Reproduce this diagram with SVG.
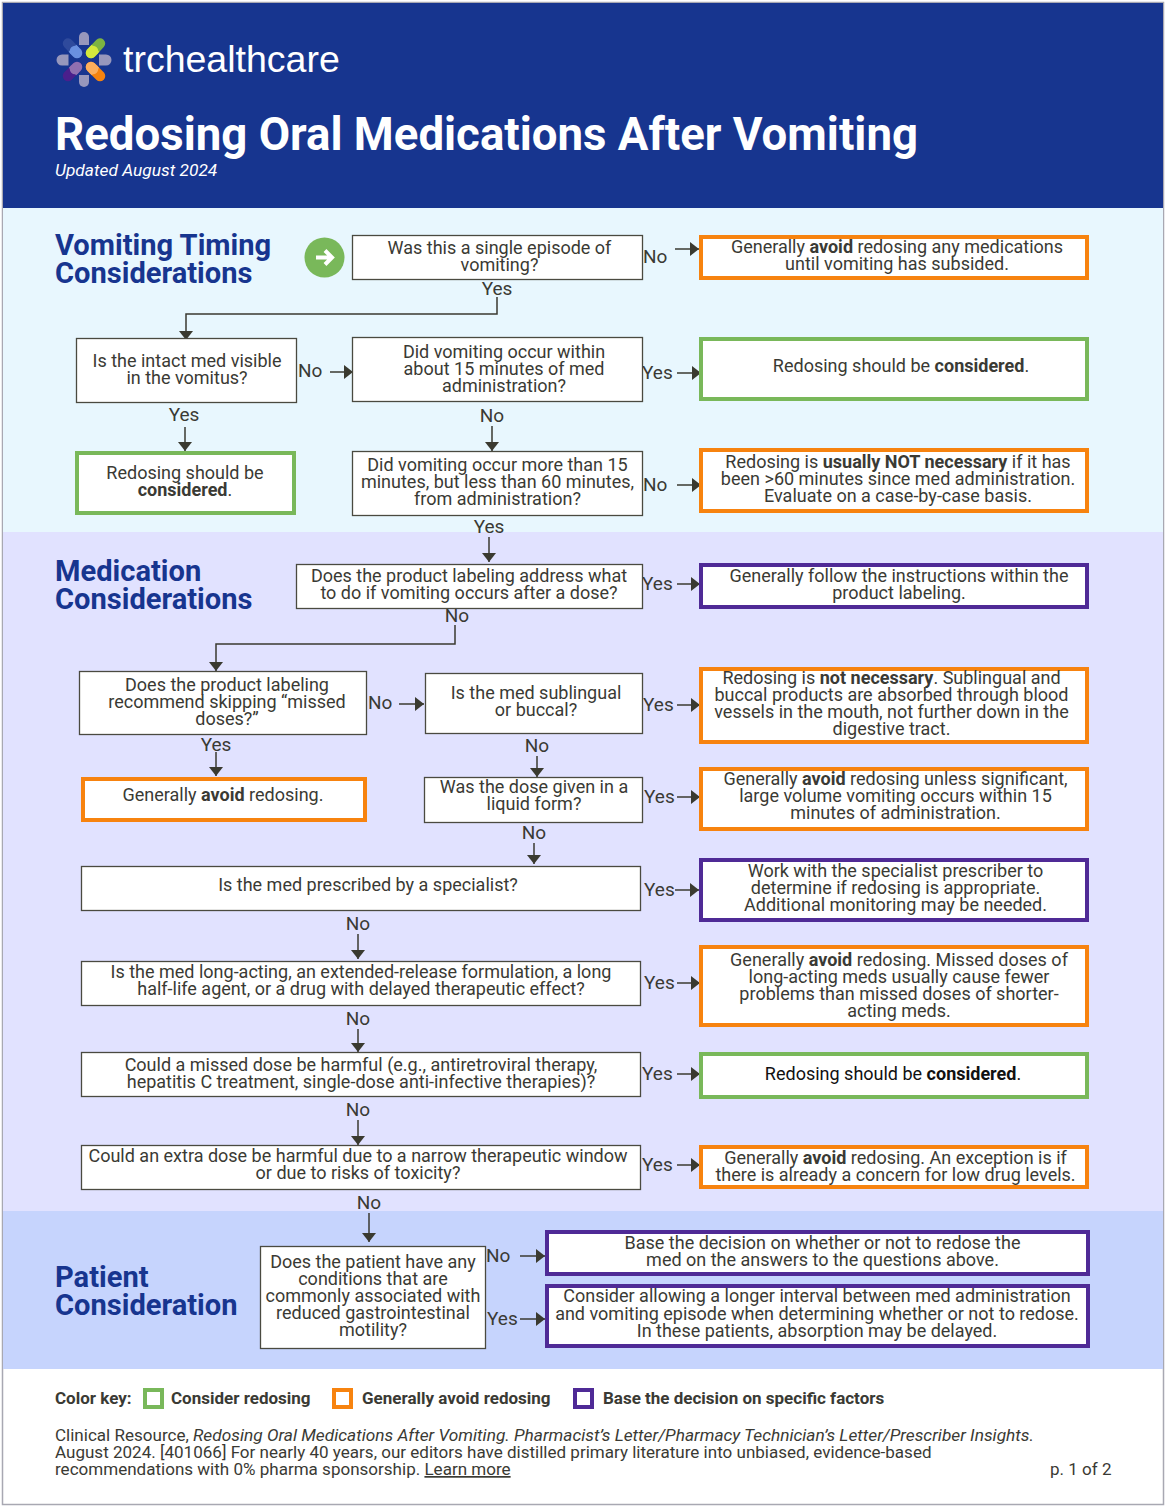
<svg xmlns="http://www.w3.org/2000/svg" width="1168" height="1509" viewBox="0 0 1168 1509">
<style>
text{font-family:Roboto,"Liberation Sans",sans-serif;font-size:18px;fill:#3a3a34}
.c{text-anchor:middle}
.q{fill:#fff;stroke:#4a4a40;stroke-width:1.3}
.g{fill:#fff;stroke:#79b85a;stroke-width:4}
.o{fill:#fff;stroke:#f7830f;stroke-width:4}
.p{fill:#fff;stroke:#4f2a96;stroke-width:4}
.h{font-size:29.100px;font-weight:700;fill:#17358f}
.k{font-weight:700;font-size:17px}
.f{font-size:17.050px}
.i{font-style:italic;font-size:17.300px}
.y{font-size:19px}
.l{stroke:#3a3a30;stroke-width:1.500;fill:none}
.b{font-weight:700}
.gp{fill:#9797bc}
.cap{fill:none;stroke-width:10.500;stroke-linecap:round}
.half{fill:none;stroke-width:10.500}
</style>
<defs><marker id="a" markerWidth="10" markerHeight="14" refX="9" refY="7" orient="auto" markerUnits="userSpaceOnUse"><path d="M0 0L9 7L0 14Z" fill="#3a3a30"/></marker></defs>
<rect width="1168" height="1509" fill="#fff"/>
<g id="page">
<rect x="2.500" y="2.500" width="1161" height="1502" fill="#fff" stroke="#a8a8b2" stroke-width="1.500"/>
<rect x="3" y="3" width="1160" height="205" fill="#17358f"/>
<rect x="3" y="208" width="1160" height="324" fill="#e8f7fe"/>
<rect x="3" y="532" width="1160" height="679" fill="#e1e2ff"/>
<rect x="3" y="1211" width="1160" height="158" fill="#c6d4fd"/>
</g>
<g id="logo">
<path class="gp" d="M79 45V37a5 5 0 0 1 10 0V45Z"/>
<path class="gp" d="M79 75V82a5 5 0 0 0 10 0V75Z"/>
<path class="gp" d="M68.500 54.500H62a5.500 5.500 0 0 0 0 11H68.500Z"/>
<path class="gp" d="M99 54.500H106a5.500 5.500 0 0 1 0 11H99Z"/>
<path class="cap" stroke="#2f4a9c" d="M68 43.500L77 53"/><path class="cap" stroke="#6a90e0" d="M77 53L75 51"/><path class="half" stroke="#6a90e0" d="M75 51L72.500 48.300"/>
<path class="cap" stroke="#7cb342" d="M100 43.500L91 53"/><path class="cap" stroke="#d4e83c" d="M91 53L93 51"/><path class="half" stroke="#d4e83c" d="M93 51L95.500 48.300"/>
<path class="cap" stroke="#f5830f" d="M100 76L91 67"/><path class="cap" stroke="#fcae5c" d="M91 67L93 69"/><path class="half" stroke="#fcae5c" d="M93 69L95.500 71.500"/>
<path class="cap" stroke="#4a1f8c" d="M68 76L77 67"/><path class="cap" stroke="#9070b0" d="M77 67L75 69"/><path class="half" stroke="#9070b0" d="M75 69L72.500 71.500"/>
<text x="123" y="72" style="font-family:'Liberation Sans',sans-serif;font-size:37.500px;fill:#fff">trchealthcare</text>
</g>
<g id="title">
<text x="55" y="150" style="font-size:45.600px;font-weight:700;fill:#fff">Redosing Oral Medications After Vomiting</text>
<text x="55" y="176" style="font-style:italic;font-size:17.350px;fill:#fff">Updated August 2024</text>
</g>
<g id="headings">
<text class="h" x="55" y="255.300">Vomiting Timing<tspan x="55" dy="27.700">Considerations</tspan></text>
<text class="h" x="55" y="581.300">Medication<tspan x="55" dy="27.700">Considerations</tspan></text>
<text class="h" x="55" y="1287.300">Patient<tspan x="55" dy="27.700">Consideration</tspan></text>
</g>
<g id="start"><circle cx="324.500" cy="257.500" r="20" fill="#79b85a"/><path d="M316 257.500H332M325 250.500L332 257.500L325 264.500" fill="none" stroke="#fff" stroke-width="4"/></g>
<g id="connectors">
<path class="l" marker-end="url(#a)" d="M675 249H699"/>
<path class="l" marker-end="url(#a)" d="M497 297V314H186V340"/>
<path class="l" marker-end="url(#a)" d="M330 372H353"/>
<path class="l" marker-end="url(#a)" d="M677 373H701"/>
<path class="l" marker-end="url(#a)" d="M185 427V451"/>
<path class="l" marker-end="url(#a)" d="M492 426V451"/>
<path class="l" marker-end="url(#a)" d="M677 485H701"/>
<path class="l" marker-end="url(#a)" d="M489 537V562"/>
<path class="l" marker-end="url(#a)" d="M677 584H700"/>
<path class="l" marker-end="url(#a)" d="M455 625V644H216V671"/>
<path class="l" marker-end="url(#a)" d="M399 704H424"/>
<path class="l" marker-end="url(#a)" d="M677 705H700"/>
<path class="l" marker-end="url(#a)" d="M216 752V776"/>
<path class="l" marker-end="url(#a)" d="M537 756V777"/>
<path class="l" marker-end="url(#a)" d="M677 797H700"/>
<path class="l" marker-end="url(#a)" d="M534 843V864"/>
<path class="l" marker-end="url(#a)" d="M675 890H699"/>
<path class="l" marker-end="url(#a)" d="M358 934V959"/>
<path class="l" marker-end="url(#a)" d="M677 983H700"/>
<path class="l" marker-end="url(#a)" d="M358 1029V1052"/>
<path class="l" marker-end="url(#a)" d="M677 1074H700"/>
<path class="l" marker-end="url(#a)" d="M358 1120V1145"/>
<path class="l" marker-end="url(#a)" d="M677 1165H700"/>
<path class="l" marker-end="url(#a)" d="M369 1213V1242"/>
<path class="l" marker-end="url(#a)" d="M520 1256H545"/>
<path class="l" marker-end="url(#a)" d="M520 1319H545"/>
</g>
<g id="connector-labels">
<text class="y" x="643" y="263">No</text><text class="y c" x="497" y="295">Yes</text>
<text class="y" x="298" y="377">No</text><text class="y" x="642" y="379">Yes</text>
<text class="y c" x="184" y="421">Yes</text><text class="y c" x="492" y="422">No</text>
<text class="y" x="643" y="491">No</text><text class="y c" x="489" y="533">Yes</text>
<text class="y" x="642" y="590">Yes</text><text class="y c" x="457" y="622">No</text>
<text class="y" x="368" y="709">No</text><text class="y" x="643" y="711">Yes</text>
<text class="y c" x="216" y="751">Yes</text><text class="y c" x="537" y="752">No</text>
<text class="y" x="644" y="803">Yes</text><text class="y c" x="534" y="839">No</text>
<text class="y" x="644" y="896">Yes</text><text class="y c" x="358" y="930">No</text>
<text class="y" x="644" y="989">Yes</text><text class="y c" x="358" y="1025">No</text>
<text class="y" x="642" y="1080">Yes</text><text class="y c" x="358" y="1116">No</text>
<text class="y" x="642" y="1171">Yes</text><text class="y c" x="369" y="1209">No</text>
<text class="y" x="486" y="1262">No</text><text class="y" x="487" y="1325">Yes</text>
</g>
<g id="n1"><rect class="q" x="352.500" y="235.500" width="290" height="44"/><text class="c" x="499.500" y="254">Was this a single episode of<tspan x="499.500" dy="17">vomiting?</tspan></text></g>
<g id="n2"><rect class="o" x="701" y="237" width="386" height="41"/><text class="c" x="897" y="253">Generally <tspan class="b">avoid</tspan> redosing any medications<tspan x="897" dy="17">until vomiting has subsided.</tspan></text></g>
<g id="n3"><rect class="q" x="76.500" y="338.500" width="220" height="64"/><text class="c" x="187" y="367">Is the intact med visible<tspan x="187" dy="17">in the vomitus?</tspan></text></g>
<g id="n4"><rect class="q" x="352.500" y="337.500" width="290" height="64"/><text class="c" x="504" y="358">Did vomiting occur within<tspan x="504" dy="17">about 15 minutes of med</tspan><tspan x="504" dy="17">administration?</tspan></text></g>
<g id="n5"><rect class="g" x="701" y="339" width="386" height="60"/><text class="c" x="901" y="372">Redosing should be <tspan class="b">considered</tspan>.</text></g>
<g id="n6"><rect class="g" x="77" y="453" width="217" height="60"/><text class="c" x="185" y="479">Redosing should be<tspan x="185" dy="17"><tspan class="b">considered</tspan>.</tspan></text></g>
<g id="n7"><rect class="q" x="352.500" y="451.500" width="290" height="64"/><text class="c" x="497.500" y="471">Did vomiting occur more than 15<tspan x="497.500" dy="17">minutes, but less than 60 minutes,</tspan><tspan x="497.500" dy="17">from administration?</tspan></text></g>
<g id="n8"><rect class="o" x="701" y="450" width="386" height="61"/><text class="c" x="898" y="468">Redosing is <tspan class="b">usually NOT necessary</tspan> if it has<tspan x="898" dy="17">been &gt;60 minutes since med administration.</tspan><tspan x="898" dy="17">Evaluate on a case-by-case basis.</tspan></text></g>
<g id="n9"><rect class="q" x="296.500" y="564.500" width="346" height="44"/><text class="c" x="469" y="582">Does the product labeling address what<tspan x="469" dy="17">to do if vomiting occurs after a dose?</tspan></text></g>
<g id="n10"><rect class="p" x="701" y="565" width="386" height="42"/><text class="c" x="899" y="582">Generally follow the instructions within the<tspan x="899" dy="17">product labeling.</tspan></text></g>
<g id="n11"><rect class="q" x="79.500" y="671.500" width="287" height="63"/><text class="c" x="227" y="691">Does the product labeling<tspan x="227" dy="17">recommend skipping “missed</tspan><tspan x="227" dy="17">doses?”</tspan></text></g>
<g id="n12"><rect class="q" x="425.500" y="673.500" width="217" height="60"/><text class="c" x="536" y="699">Is the med sublingual<tspan x="536" dy="17">or buccal?</tspan></text></g>
<g id="n13"><rect class="o" x="701" y="669" width="386" height="73"/><text class="c" x="891.500" y="684">Redosing is <tspan class="b">not necessary</tspan>. Sublingual and<tspan x="891.500" dy="17">buccal products are absorbed through blood</tspan><tspan x="891.500" dy="17">vessels in the mouth, not further down in the</tspan><tspan x="891.500" dy="17">digestive tract.</tspan></text></g>
<g id="n14"><rect class="o" x="83" y="779" width="282" height="41"/><text class="c" x="223" y="801">Generally <tspan class="b">avoid</tspan> redosing.</text></g>
<g id="n15"><rect class="q" x="424.500" y="777.500" width="218" height="45"/><text class="c" x="534" y="793">Was the dose given in a<tspan x="534" dy="17">liquid form?</tspan></text></g>
<g id="n16"><rect class="o" x="701" y="769" width="386" height="60"/><text class="c" x="895.500" y="785">Generally <tspan class="b">avoid</tspan> redosing unless significant,<tspan x="895.500" dy="17">large volume vomiting occurs within 15</tspan><tspan x="895.500" dy="17">minutes of administration.</tspan></text></g>
<g id="n17"><rect class="q" x="81.500" y="866.500" width="559" height="44"/><text class="c" x="368" y="891">Is the med prescribed by a specialist?</text></g>
<g id="n18"><rect class="p" x="701" y="860" width="386" height="60"/><text class="c" x="895.500" y="877">Work with the specialist prescriber to<tspan x="895.500" dy="17">determine if redosing is appropriate.</tspan><tspan x="895.500" dy="17">Additional monitoring may be needed.</tspan></text></g>
<g id="n19"><rect class="q" x="81.500" y="961.500" width="559" height="44"/><text class="c" x="361" y="978">Is the med long-acting, an extended-release formulation, a long<tspan x="361" dy="17">half-life agent, or a drug with delayed therapeutic effect?</tspan></text></g>
<g id="n20"><rect class="o" x="701" y="947" width="386" height="78"/><text class="c" x="899" y="966">Generally <tspan class="b">avoid</tspan> redosing. Missed doses of<tspan x="899" dy="17">long-acting meds usually cause fewer</tspan><tspan x="899" dy="17">problems than missed doses of shorter-</tspan><tspan x="899" dy="17">acting meds.</tspan></text></g>
<g id="n21"><rect class="q" x="81.500" y="1052.500" width="559" height="44"/><text class="c" x="361" y="1071">Could a missed dose be harmful (e.g., antiretroviral therapy,<tspan x="361" dy="17">hepatitis C treatment, single-dose anti-infective therapies)?</tspan></text></g>
<g id="n22"><rect class="g" x="701" y="1054" width="386" height="43"/><text class="c" x="893" y="1080" style="fill:#111">Redosing should be <tspan class="b">considered</tspan>.</text></g>
<g id="n23"><rect class="q" x="81.500" y="1145.500" width="559" height="44"/><text class="c" x="358" y="1162">Could an extra dose be harmful due to a narrow therapeutic window<tspan x="358" dy="17">or due to risks of toxicity?</tspan></text></g>
<g id="n24"><rect class="o" x="701" y="1147" width="386" height="40"/><text class="c" x="895.500" y="1164">Generally <tspan class="b">avoid</tspan> redosing. An exception is if<tspan x="895.500" dy="17">there is already a concern for low drug levels.</tspan></text></g>
<g id="n25"><rect class="q" x="260.500" y="1246.500" width="225" height="102"/><text class="c" x="373" y="1268">Does the patient have any<tspan x="373" dy="17">conditions that are</tspan><tspan x="373" dy="17">commonly associated with</tspan><tspan x="373" dy="17">reduced gastrointestinal</tspan><tspan x="373" dy="17">motility?</tspan></text></g>
<g id="n26"><rect class="p" x="547" y="1232" width="541" height="42"/><text class="c" x="822.500" y="1249">Base the decision on whether or not to redose the<tspan x="822.500" dy="17">med on the answers to the questions above.</tspan></text></g>
<g id="n27"><rect class="p" x="547" y="1286" width="541" height="60"/><text class="c" x="817" y="1302">Consider allowing a longer interval between med administration<tspan x="817" dy="18">and vomiting episode when determining whether or not to redose.</tspan><tspan x="817" dy="17">In these patients, absorption may be delayed.</tspan></text></g>
<g id="key">
<text class="k" x="55" y="1404">Color key:</text>
<rect class="g" x="145" y="1390" width="17" height="17"/><text class="k" x="171" y="1404">Consider redosing</text>
<rect class="o" x="334" y="1390" width="17" height="17"/><text class="k" x="362" y="1404">Generally avoid redosing</text>
<rect class="p" x="575" y="1390" width="17" height="17"/><text class="k" x="603" y="1404">Base the decision on specific factors</text>
</g>
<g id="footer">
<text class="f" x="55" y="1441">Clinical Resource, <tspan class="i">Redosing Oral Medications After Vomiting. Pharmacist’s Letter/Pharmacy Technician’s Letter/Prescriber Insights.</tspan><tspan x="55" dy="17">August 2024. [401066] For nearly 40 years, our editors have distilled primary literature into unbiased, evidence-based</tspan><tspan x="55" dy="17">recommendations with 0% pharma sponsorship. <tspan text-decoration="underline">Learn more</tspan></tspan></text>
<text class="f" x="1050" y="1475">p. 1 of 2</text>
</g>
</svg>
